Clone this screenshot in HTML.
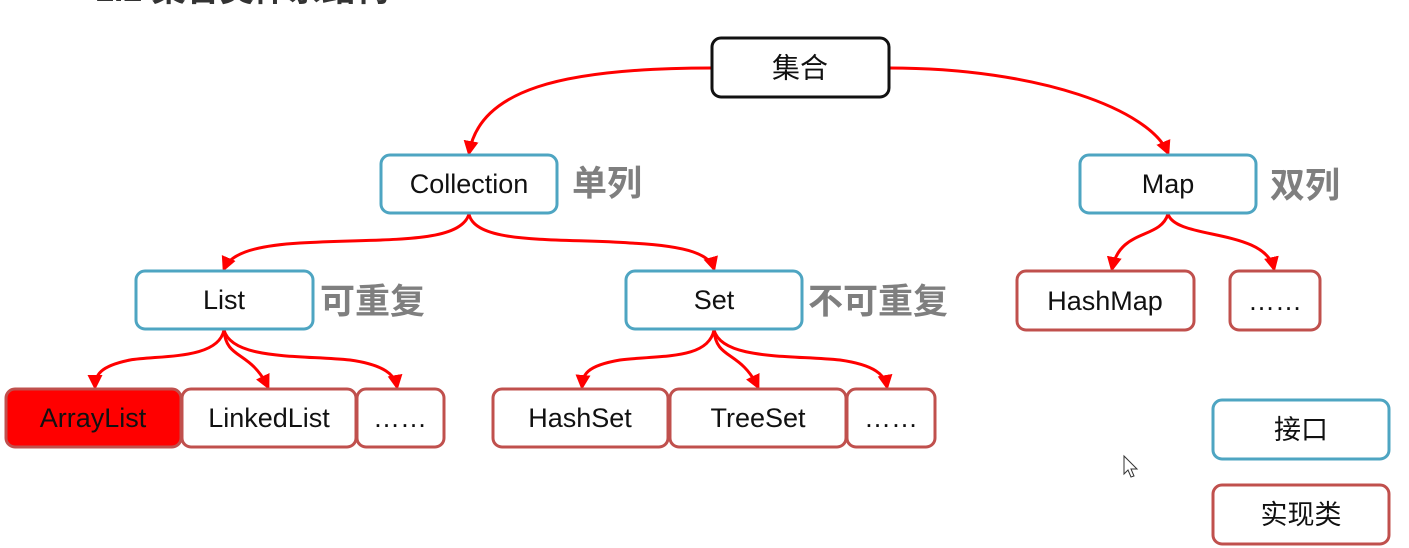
<!DOCTYPE html>
<html><head><meta charset="utf-8"><style>
html,body{margin:0;padding:0;background:#fff;}
svg{display:block;}
text{font-family:"Liberation Sans","Noto Sans CJK SC",sans-serif;}
.t{font-size:27px;fill:#111;text-anchor:middle;dominant-baseline:central;}
.g{font-size:35px;font-weight:bold;fill:#7f7f7f;dominant-baseline:central;}
.b{fill:#fff;stroke:#4ea5c2;stroke-width:3;}
.r{fill:#fff;stroke:#c0504d;stroke-width:3;}
.c{fill:none;stroke:#f00;stroke-width:3;marker-end:url(#a);}
</style></head><body>
<svg width="1409" height="548" viewBox="0 0 1409 548">
<defs><marker id="a" markerWidth="5" markerHeight="5" refX="4" refY="2.5" orient="auto" markerUnits="strokeWidth"><path d="M0,0 L5,2.5 L0,5 z" fill="#f00"/></marker></defs>
<text x="95" y="1" style="font-size:34px;font-weight:bold;fill:#333;">1.2 集合类体系结构</text>
<path class="c" d="M712,68 C560,68 480,90 469,153"/>
<path class="c" d="M889,68 C1040,68 1150,110 1168,153"/>
<path class="c" d="M469,214 C460,245 380,238 300,243 C250,246 230,255 224,269"/>
<path class="c" d="M469,214 C475,245 560,238 630,243 C690,246 710,255 714,269"/>
<path class="c" d="M1168,214 C1160,240 1120,228 1112,269"/>
<path class="c" d="M1168,214 C1176,240 1265,228 1274,269"/>
<path class="c" d="M224,330 C218,360 160,355 130,360 C100,366 95,375 95,387"/>
<path class="c" d="M224,330 C226,360 250,350 268,387"/>
<path class="c" d="M224,330 C232,360 300,355 350,360 C385,365 395,375 397,387"/>
<path class="c" d="M714,330 C708,360 660,355 620,360 C585,366 583,375 582,387"/>
<path class="c" d="M714,330 C716,360 740,350 758,387"/>
<path class="c" d="M714,330 C722,360 790,355 840,360 C875,365 885,375 887,387"/>
<rect x="712" y="38" width="177" height="59" rx="9" fill="#fff" stroke="#111" stroke-width="3"/>
<text class="t" x="800" y="68" style="font-size:28px">集合</text>
<rect class="b" x="381" y="155" width="176" height="58" rx="9"/><text class="t" x="469" y="184">Collection</text>
<rect class="b" x="1080" y="155" width="176" height="58" rx="9"/><text class="t" x="1168" y="184">Map</text>
<rect class="b" x="136" y="271" width="177" height="58" rx="9"/><text class="t" x="224" y="300">List</text>
<rect class="b" x="626" y="271" width="176" height="58" rx="9"/><text class="t" x="714" y="300">Set</text>
<rect x="6" y="389" width="175" height="58" rx="9" fill="#f00" stroke="#c0504d" stroke-width="3"/><text class="t" x="93" y="418">ArrayList</text>
<rect class="r" x="182" y="389" width="174" height="58" rx="9"/><text class="t" x="269" y="418">LinkedList</text>
<rect class="r" x="357" y="389" width="87" height="58" rx="9"/><text class="t" x="400" y="418">……</text>
<rect class="r" x="493" y="389" width="175" height="58" rx="9"/><text class="t" x="580" y="418">HashSet</text>
<rect class="r" x="670" y="389" width="176" height="58" rx="9"/><text class="t" x="758" y="418">TreeSet</text>
<rect class="r" x="847" y="389" width="88" height="58" rx="9"/><text class="t" x="891" y="418">……</text>
<rect class="r" x="1017" y="271" width="177" height="59" rx="9"/><text class="t" x="1105" y="301">HashMap</text>
<rect class="r" x="1230" y="271" width="90" height="59" rx="9"/><text class="t" x="1275" y="301">……</text>
<rect class="b" x="1213" y="400" width="176" height="59" rx="9"/><text class="t" x="1301" y="430">接口</text>
<rect class="r" x="1213" y="485" width="176" height="59" rx="9"/><text class="t" x="1301" y="515">实现类</text>
<text class="g" x="572" y="184">单列</text>
<text class="g" x="1270" y="186">双列</text>
<text class="g" x="320" y="302">可重复</text>
<text class="g" x="808" y="302">不可重复</text>
<path d="M1124,456 L1124,474 L1128,470 L1131,477 L1134,476 L1131,469 L1137,469 Z" fill="#fff" stroke="#333" stroke-width="1"/>
</svg>
</body></html>
